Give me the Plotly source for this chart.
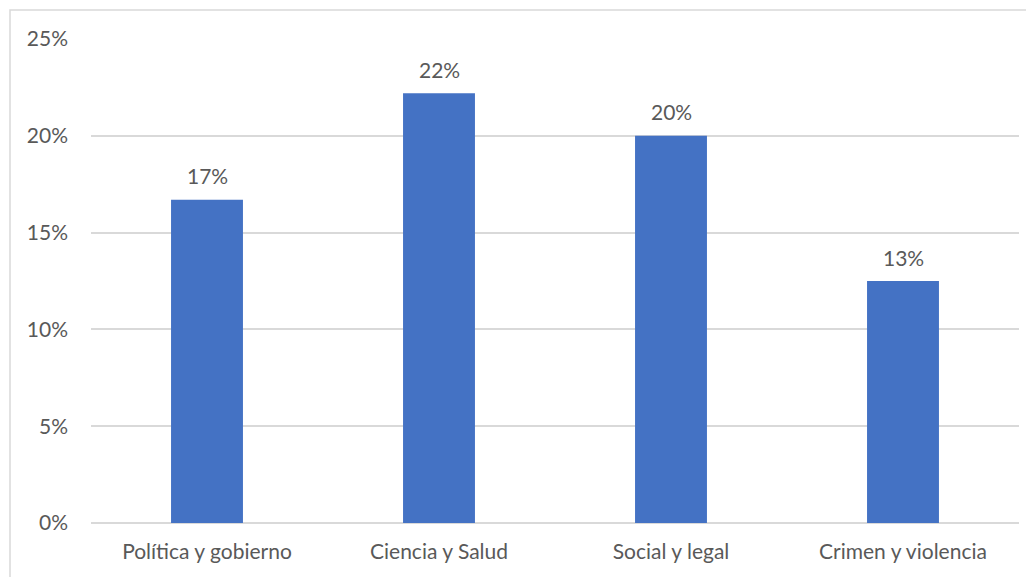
import plotly.graph_objects as go

categories = ["Política y gobierno", "Ciencia y Salud", "Social y legal", "Crimen y violencia"]
values = [16.7, 22.2, 20.0, 12.5]
labels = ["17%", "22%", "20%", "13%"]
tick_vals = [0, 5, 10, 15, 20, 25]
tick_text = ["0%", "5%", "10%", "15%", "20%", "25%"]

font_family = "Lato, 'Open Sans', sans-serif"
txt_color = "#595959"
fsize = 21

fig = go.Figure(go.Bar(
    x=categories, y=values,
    marker=dict(color="#4472C4", line=dict(width=0)),
    width=0.31,
))

for c, v, t in zip(categories, values, labels):
    fig.add_annotation(x=c, y=v, text=t, showarrow=False, yanchor="middle", yshift=24,
                       font=dict(family=font_family, size=fsize, color=txt_color))

fig.update_layout(
    width=1026, height=569,
    margin=dict(l=83, r=15, t=31, b=54),
    paper_bgcolor="white", plot_bgcolor="white",
    showlegend=False,
    font=dict(family=font_family, size=fsize, color=txt_color),
    xaxis=dict(showgrid=False, showline=False, ticks="", ticklabelstandoff=14,
               tickfont=dict(family=font_family, size=fsize, color=txt_color)),
    yaxis=dict(range=[0, 25], tickvals=tick_vals, ticktext=tick_text,
               showgrid=True, gridcolor="#d9d9d9", gridwidth=1.5,
               zeroline=True, zerolinecolor="#d9d9d9", zerolinewidth=1.5,
               showline=False, ticks="", ticklabelstandoff=22,
               tickfont=dict(family=font_family, size=fsize, color=txt_color)),
    shapes=[dict(type="rect", xref="paper", yref="paper",
                 x0=-81/928, x1=1.03, y0=-0.2, y1=1 + 29/484,
                 line=dict(color="#d9d9d9", width=1.5), fillcolor="rgba(0,0,0,0)", layer="below")],
)

fig.write_html("out.html")
